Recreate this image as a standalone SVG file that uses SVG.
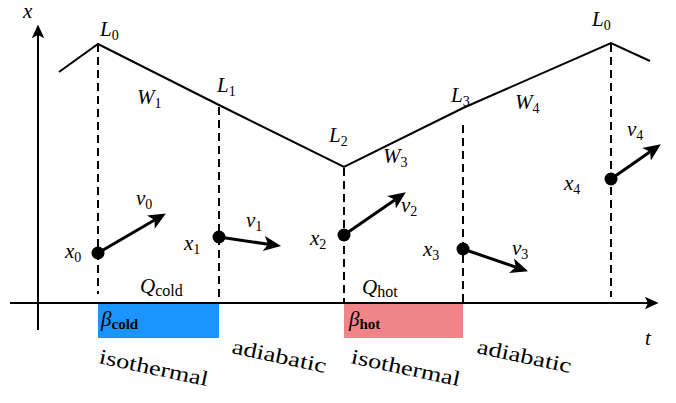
<svg xmlns="http://www.w3.org/2000/svg" width="676" height="403" viewBox="0 0 676 403">
<style>
.m{font-family:"Liberation Serif","DejaVu Serif",serif;font-style:italic;font-size:21px;fill:#000}
.s{font-style:normal;font-size:14px}
.sb{font-style:normal;font-size:15px;font-weight:bold}
.sw{font-style:normal;font-size:16px}
.w{font-family:"Liberation Serif","DejaVu Serif",serif;font-size:21px;fill:#000}
.ax{stroke:#000;stroke-width:2;fill:none}
.cv{stroke:#000;stroke-width:2;fill:none;stroke-linejoin:miter}
.da{stroke:#000;stroke-width:2;stroke-dasharray:8 5;fill:none}
.vec{stroke:#000;stroke-width:3;fill:none}
</style>
<defs>
<marker id="vh" markerUnits="userSpaceOnUse" markerWidth="24" markerHeight="24" viewBox="-2 -10 22 20" refX="4" refY="0" orient="auto"><path d="M0,-7 L16,0 L0,7 L4,0 Z" fill="#000"/></marker>
<marker id="ah" markerUnits="userSpaceOnUse" markerWidth="20" markerHeight="20" viewBox="-2 -8 16 16" refX="2.5" refY="0" orient="auto"><path d="M0,-5 L11,0 L0,5 L2.5,0 Z" fill="#000"/></marker>
</defs>
<g id="bars">
<rect x="98" y="304" width="121" height="34" fill="#1a94ff"/>
<rect x="344" y="304" width="119" height="34" fill="#f08589"/>
</g>
<g id="axes">
<line class="ax" x1="38" y1="330" x2="38" y2="35" marker-end="url(#ah)"/>
<line class="ax" x1="10" y1="303" x2="648" y2="303" marker-end="url(#ah)"/>
<text class="m" x="23" y="18">x</text>
<text class="m" x="645" y="345">t</text>
</g>
<g id="connectors">
<polyline class="cv" points="59,72 98,44 219,105 344,167 463,108 611,43 650,61"/>
<line class="da" x1="98" y1="44" x2="98" y2="294"/>
<line class="da" x1="219" y1="107" x2="219" y2="303"/>
<line class="da" x1="344" y1="168" x2="344" y2="303"/>
<line class="da" x1="463" y1="125" x2="463" y2="303"/>
<line class="da" x1="611" y1="44" x2="611" y2="297"/>
<line class="vec" x1="98" y1="253" x2="154.6" y2="220" marker-end="url(#vh)"/>
<line class="vec" x1="219" y1="237" x2="268.1" y2="244.2" marker-end="url(#vh)"/>
<line class="vec" x1="344" y1="235" x2="395.1" y2="199.8" marker-end="url(#vh)"/>
<line class="vec" x1="463" y1="249" x2="515.7" y2="267.1" marker-end="url(#vh)"/>
<line class="vec" x1="611" y1="179" x2="650.1" y2="151.8" marker-end="url(#vh)"/>
</g>
<g id="points">
<circle cx="98" cy="253" r="6.5"/>
<circle cx="219" cy="237" r="6.5"/>
<circle cx="344" cy="235" r="6.5"/>
<circle cx="463" cy="249" r="6.5"/>
<circle cx="611" cy="179" r="6.5"/>
</g>
<g id="labels">
<text class="m" x="100" y="36">L<tspan class="s" dy="4">0</tspan></text>
<text class="m" x="217" y="92">L<tspan class="s" dy="4">1</tspan></text>
<text class="m" x="329" y="142">L<tspan class="s" dy="4">2</tspan></text>
<text class="m" x="451" y="102">L<tspan class="s" dy="4">3</tspan></text>
<text class="m" x="592" y="26">L<tspan class="s" dy="4">0</tspan></text>
<text class="m" x="137" y="104">W<tspan class="s" dy="4">1</tspan></text>
<text class="m" x="383" y="163">W<tspan class="s" dy="4">3</tspan></text>
<text class="m" x="515" y="109">W<tspan class="s" dy="4">4</tspan></text>
<text class="m" x="136" y="205">v<tspan class="s" dy="4">0</tspan></text>
<text class="m" x="246" y="227">v<tspan class="s" dy="4">1</tspan></text>
<text class="m" x="401" y="212">v<tspan class="s" dy="4">2</tspan></text>
<text class="m" x="512" y="255">v<tspan class="s" dy="4">3</tspan></text>
<text class="m" x="627" y="136">v<tspan class="s" dy="4">4</tspan></text>
<text class="m" x="65" y="258">x<tspan class="s" dy="4">0</tspan></text>
<text class="m" x="184" y="250">x<tspan class="s" dy="4">1</tspan></text>
<text class="m" x="310" y="245">x<tspan class="s" dy="4">2</tspan></text>
<text class="m" x="423" y="256">x<tspan class="s" dy="4">3</tspan></text>
<text class="m" x="564" y="190">x<tspan class="s" dy="4">4</tspan></text>
<text class="m" x="140" y="293">Q<tspan class="sw" dy="3">cold</tspan></text>
<text class="m" x="362" y="294">Q<tspan class="sw" dy="3">hot</tspan></text>
<text class="m" x="101" y="326">β<tspan class="sb" dy="3">cold</tspan></text>
<text class="m" x="349" y="326">β<tspan class="sb" dy="3">hot</tspan></text>
<text class="w" x="98" y="363" transform="rotate(12 98 363)" textLength="111" lengthAdjust="spacingAndGlyphs">isothermal</text>
<text class="w" x="231" y="353" transform="rotate(12 231 353)" textLength="96" lengthAdjust="spacingAndGlyphs">adiabatic</text>
<text class="w" x="350" y="363" transform="rotate(12 350 363)" textLength="111" lengthAdjust="spacingAndGlyphs">isothermal</text>
<text class="w" x="476" y="353" transform="rotate(12 476 353)" textLength="96" lengthAdjust="spacingAndGlyphs">adiabatic</text>
</g>
</svg>
